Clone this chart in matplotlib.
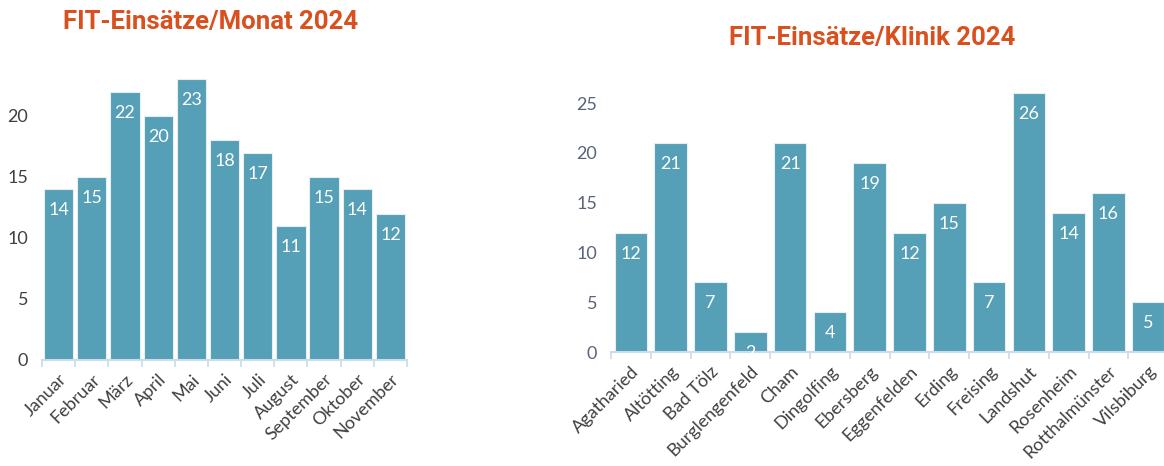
import matplotlib
matplotlib.use("Agg")
import matplotlib.pyplot as plt
import numpy as np

# Monthly data
months = ["Januar", "Februar", "März", "April", "Mai", "Juni", "Juli",
          "August", "September", "Oktober", "November"]
month_counts = [14, 15, 22, 20, 23, 18, 17, 11, 15, 14, 12]

# Per clinic data
clinics = ["Agatharied", "Altötting", "Bad Tölz", "Burglengenfeld", "Cham",
           "Dingolfing", "Ebersberg", "Eggenfelden", "Erding", "Freising",
           "Landshut", "Rosenheim", "Rotthalmünster", "Vilsbiburg"]
clinic_counts = [12, 21, 7, 2, 21, 4, 19, 12, 15, 7, 26, 14, 16, 5]

BAR_COLOR = "#559FB7"
TITLE_COLOR = "#D9501E"
AXIS_COLOR = "#C9DCEB"
TITLE_FONT = ["Roboto", "DejaVu Sans"]
TICK_FONT = ["Lato", "DejaVu Sans"]

fig = plt.figure(figsize=(11.64, 4.66), dpi=100)


def draw_bars(ax, labels, values, width, ymax, yticks, tick_color):
    x = np.arange(len(labels))
    ax.bar(x, values, width=width, color=BAR_COLOR, edgecolor="#E4EEF3", linewidth=0.8)
    for xi, v in zip(x, values):
        ax.annotate(str(v), (xi, v), xytext=(0, -21), textcoords="offset pixels",
                    ha="center", va="center", color="white", fontsize=13,
                    family=TICK_FONT)
    ax.set_xlim(-0.5, len(labels) - 0.5)
    ax.set_ylim(0, ymax)
    ax.set_yticks(yticks)
    ax.set_xticks(x)
    ax.set_xticklabels(labels, rotation=45, ha="right", rotation_mode="anchor",
                       family=TICK_FONT, fontsize=13, color="#404040")
    ax.set_xticks(np.arange(len(labels) + 1) - 0.5, minor=True)
    ax.tick_params(axis="x", which="major", length=0, pad=8)
    ax.tick_params(axis="x", which="minor", length=5, color=AXIS_COLOR, width=1.2)
    ax.tick_params(axis="y", length=0, pad=10, labelcolor=tick_color, labelsize=13)
    for lbl in ax.get_yticklabels():
        lbl.set_family(TICK_FONT)
    for s in ["top", "right", "left"]:
        ax.spines[s].set_visible(False)
    ax.spines["bottom"].set_color(AXIS_COLOR)
    ax.spines["bottom"].set_linewidth(1.5)


ax1 = fig.add_axes([0.0361, 0.2275, 0.3136, 0.6545])
draw_bars(ax1, months, month_counts, 0.88, 25, [0, 5, 10, 15, 20], "#404040")

ax2 = fig.add_axes([0.525, 0.2446, 0.4785, 0.577])
draw_bars(ax2, clinics, clinic_counts, 0.82, 27, [0, 5, 10, 15, 20, 25], "#5A6478")

fig.text(211 / 1164, 1 - 22 / 466, "FIT-Einsätze/Monat 2024", ha="center", va="center",
         color=TITLE_COLOR, fontsize=18.5, fontweight="bold", family=TITLE_FONT)
fig.text(872 / 1164, 1 - 38 / 466, "FIT-Einsätze/Klinik 2024", ha="center", va="center",
         color=TITLE_COLOR, fontsize=18.5, fontweight="bold", family=TITLE_FONT)

fig.savefig("out.png", dpi=100)
